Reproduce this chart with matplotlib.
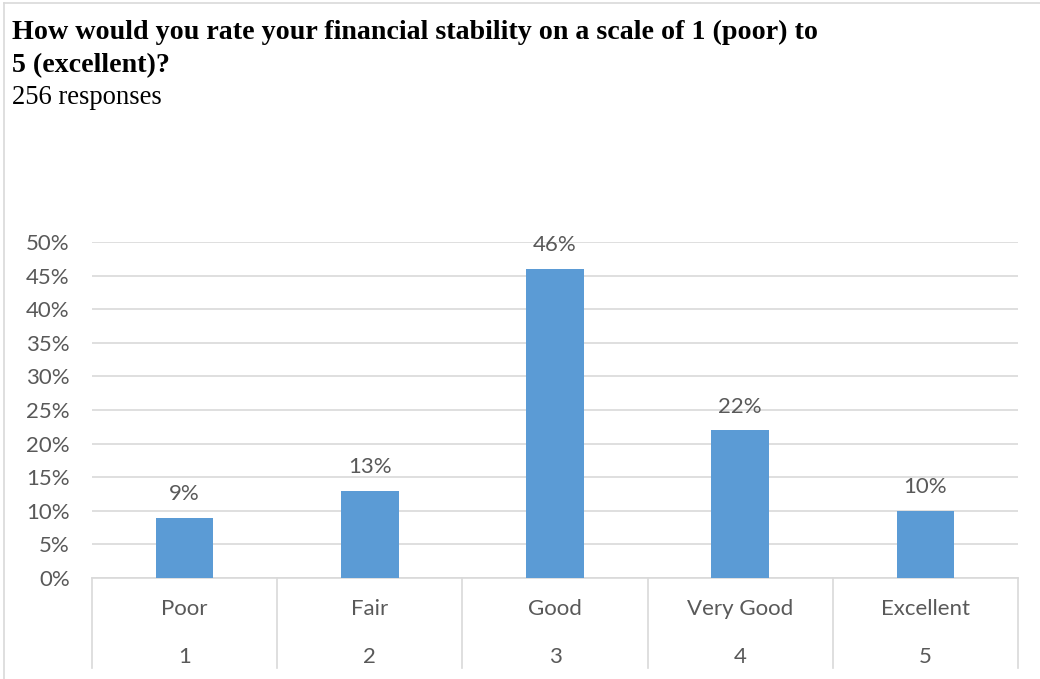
import matplotlib
matplotlib.use("Agg")
import matplotlib.pyplot as plt
from matplotlib.lines import Line2D
from matplotlib.transforms import blended_transform_factory

# Respostas da pesquisa (porcentagem por nota)
notas = ["1", "2", "3", "4", "5"]
rotulos = ["Poor", "Fair", "Good", "Very Good", "Excellent"]
porcentagens = [9, 13, 46, 22, 10]
ticks_y = [0, 5, 10, 15, 20, 25, 30, 35, 40, 45, 50]

titulo = ["How would you rate your financial stability on a scale of 1 (poor) to",
          "5 (excellent)?"]
subtitulo = "256 responses"

azul = "#5B9BD5"
cinza_texto = "#595959"
cinza_linha = "#D9D9D9"
fonte = "Lato"
tam = 16

W, H = 1040, 679
fig = plt.figure(figsize=(W / 100, H / 100), dpi=100)

# borda da figura
fig.add_artist(Line2D([4 / W, 4 / W], [0, 1 - 3 / H], color=cinza_linha, lw=1.2))
fig.add_artist(Line2D([4 / W, 1], [1 - 3 / H, 1 - 3 / H], color=cinza_linha, lw=1.2))

# titulo e subtitulo (linhas de base em pixels)
for linha, base in zip(titulo, [39, 72]):
    fig.text(12 / W, 1 - base / H, linha, fontsize=20.2, fontweight="bold",
             family="Liberation Serif", va="baseline", ha="left")
fig.text(12 / W, 1 - 104 / H, subtitulo, fontsize=19.2, family="Liberation Serif",
         va="baseline", ha="left")

# area do grafico
x0, x1 = 92, 1018
y0, y1 = 578, 242
ax = fig.add_axes([x0 / W, (H - y0) / H, (x1 - x0) / W, (y0 - y1) / H])

x = range(len(porcentagens))
ax.bar(x, porcentagens, width=0.31, color=azul, zorder=3)
for i, v in zip(x, porcentagens):
    ax.annotate(f"{v}%", (i, v), xytext=(0, 17), textcoords="offset points",
                ha="center", va="center", fontsize=tam, color=cinza_texto,
                family=fonte)

ax.set_xlim(-0.5, len(porcentagens) - 0.5)
ax.set_ylim(0, 50)
ax.set_yticks(ticks_y)
ax.set_yticklabels([f"{t}%" for t in ticks_y], fontsize=tam, color=cinza_texto,
                   family=fonte)
ax.tick_params(axis="y", length=0, pad=16)
ax.set_xticks([])
ax.grid(axis="y", color=cinza_linha, lw=1.2, zorder=0)
for lado in ["top", "right", "left"]:
    ax.spines[lado].set_visible(False)
ax.spines["bottom"].set_color(cinza_linha)
ax.spines["bottom"].set_linewidth(1.2)

# eixo de categorias em dois niveis
trans = blended_transform_factory(ax.transData, ax.transAxes)
alt = y0 - y1
fundo = -(668 - y0) / alt
for b in range(len(porcentagens) + 1):
    ax.add_line(Line2D([b - 0.5, b - 0.5], [0, fundo], transform=trans,
                       color=cinza_linha, lw=1.2, clip_on=False))
for i in x:
    ax.text(i, -(609 - y0) / alt, rotulos[i], transform=trans, ha="center",
            va="center", fontsize=tam, color=cinza_texto, family=fonte)
    ax.text(i, -(657 - y0) / alt, notas[i], transform=trans, ha="center",
            va="center", fontsize=tam, color=cinza_texto, family=fonte)

fig.savefig("out.png", dpi=100)
